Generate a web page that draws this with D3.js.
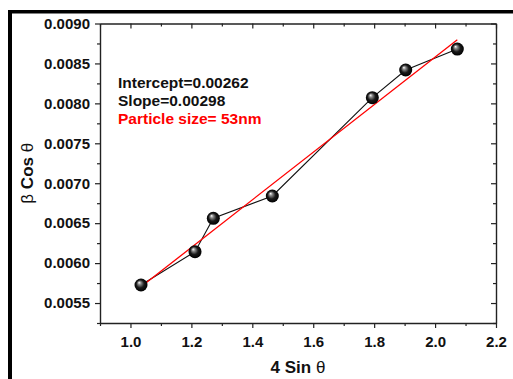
<!DOCTYPE html>
<html><head><meta charset="utf-8">
<script src="https://cdn.jsdelivr.net/npm/d3@7"></script>
<style>body{margin:0;background:#fff}svg{display:block}</style>
</head><body>
<script>
const xValues = [1.0346, 1.2119, 1.272, 1.4657, 1.794, 1.9036, 2.073];
const yValues = [0.005726, 0.006143, 0.006561, 0.00684, 0.008071, 0.008418, 0.00868];
const fitIntercept = 0.00262;
const fitSlope = 0.00298;
const xTickLabels = ["1.0","1.2","1.4","1.6","1.8","2.0","2.2"];
const yTickLabels = ["0.0055","0.0060","0.0065","0.0070","0.0075","0.0080","0.0085","0.0090"];
const annotations = ["Intercept=0.00262","Slope=0.00298","Particle size= 53nm"];

const W=513,H=379;
const svg=d3.select("body").append("svg").attr("width",W).attr("height",H);
svg.append("rect").attr("width",W).attr("height",H).attr("fill","#fff");
// outer frame
svg.append("rect").attr("x",8).attr("y",10).attr("width",4).attr("height",H-10).attr("fill","#000");
svg.append("rect").attr("x",8).attr("y",10).attr("width",W-8).attr("height",3.5).attr("fill","#000");

const L=100,R=496,T=23.5,B=323;
const x=d3.scaleLinear().domain([0.9,2.2]).range([L,R]);
const y=d3.scaleLinear().domain([0.00525,0.0090]).range([B,T]);
const font="'Liberation Sans', Arial, sans-serif";
const axisColor="#222";

const xMajor=xTickLabels.map(Number);
const xMinor=d3.range(9,23).map(d=>d/10).filter(d=>!xMajor.some(m=>Math.abs(m-d)<1e-9));
const yMajor=yTickLabels.map(Number);
const yMinor=d3.range(21,37).map(d=>d*0.00025).filter(d=>!yMajor.some(m=>Math.abs(m-d)<1e-9));

function styleAxis(g){
  g.selectAll(".domain").attr("stroke",axisColor).attr("stroke-width",1.4);
  g.selectAll(".tick line").attr("stroke",axisColor).attr("stroke-width",1.2);
}
// bottom
const gb=svg.append("g").attr("transform",`translate(0,${B})`);
gb.call(d3.axisBottom(x).tickValues(xMajor).tickSize(5).tickSizeOuter(0).tickFormat((d,i)=>xTickLabels[i]));
gb.append("g").call(d3.axisBottom(x).tickValues(xMinor).tickSize(3).tickSizeOuter(0).tickFormat("")).select(".domain").remove();
styleAxis(gb);
gb.selectAll("text").attr("font-family",font).attr("font-weight","bold").attr("font-size",15).attr("fill","#111").attr("dy","1.05em");
// top
const gt=svg.append("g").attr("transform",`translate(0,${T})`);
gt.call(d3.axisBottom(x).tickValues(xMajor).tickSize(5).tickSizeOuter(0).tickFormat(""));
gt.append("g").call(d3.axisBottom(x).tickValues(xMinor).tickSize(3).tickSizeOuter(0).tickFormat("")).select(".domain").remove();
styleAxis(gt);
// left
const gl=svg.append("g").attr("transform",`translate(${L},0)`);
gl.call(d3.axisLeft(y).tickValues(yMajor).tickSize(5).tickSizeOuter(0).tickFormat((d,i)=>yTickLabels[i]));
gl.append("g").call(d3.axisLeft(y).tickValues(yMinor).tickSize(3).tickSizeOuter(0).tickFormat("")).select(".domain").remove();
styleAxis(gl);
gl.selectAll("text").attr("font-family",font).attr("font-weight","bold").attr("font-size",15).attr("fill","#111").attr("x",-10);
// right
const gr=svg.append("g").attr("transform",`translate(${R},0)`);
gr.call(d3.axisLeft(y).tickValues(yMajor).tickSize(5).tickSizeOuter(0).tickFormat(""));
gr.append("g").call(d3.axisLeft(y).tickValues(yMinor).tickSize(3).tickSizeOuter(0).tickFormat("")).select(".domain").remove();
styleAxis(gr);

// axis titles
const xt=svg.append("text").attr("x",298).attr("y",373).attr("text-anchor","middle")
  .attr("font-family",font).attr("font-weight","bold").attr("font-size",17).attr("fill","#111");
xt.append("tspan").text("4 Sin ");
xt.append("tspan").attr("font-weight","normal").text("θ");
const yt=svg.append("text").attr("transform",`translate(33,${(T+B)/2}) rotate(-90)`).attr("text-anchor","middle")
  .attr("font-family",font).attr("font-weight","bold").attr("font-size",17).attr("fill","#111");
yt.append("tspan").attr("font-weight","normal").text("β ");
yt.append("tspan").text("Cos ");
yt.append("tspan").attr("font-weight","normal").text("θ");

// defs gradient
const defs=svg.append("defs");
const grad=defs.append("radialGradient").attr("id","ball").attr("cx","50%").attr("cy","50%").attr("r","50%").attr("fx","35%").attr("fy","30%");
grad.append("stop").attr("offset","0%").attr("stop-color","#ffffff");
grad.append("stop").attr("offset","25%").attr("stop-color","#888");
grad.append("stop").attr("offset","60%").attr("stop-color","#1a1a1a");
grad.append("stop").attr("offset","100%").attr("stop-color","#000");

const data=xValues.map((v,i)=>({x:v,y:yValues[i]}));
// connecting line
svg.append("path").datum(data).attr("fill","none").attr("stroke","#111").attr("stroke-width",1.1)
  .attr("d",d3.line().x(d=>x(d.x)).y(d=>y(d.y)));
// fit line
const fx=d3.extent(xValues);
svg.append("line").attr("x1",x(fx[0])).attr("y1",y(fitIntercept+fitSlope*fx[0]))
  .attr("x2",x(fx[1])).attr("y2",y(fitIntercept+fitSlope*fx[1]))
  .attr("stroke","#ff0000").attr("stroke-width",1.3);
// points
svg.selectAll("circle.pt").data(data).join("circle").attr("class","pt")
  .attr("cx",d=>x(d.x)).attr("cy",d=>y(d.y)).attr("r",6.5).attr("fill","url(#ball)");

// annotations
const ann=[{t:annotations[0],y:88,c:"#111"},{t:annotations[1],y:106,c:"#111"},{t:annotations[2],y:124,c:"#ff0000"}];
svg.selectAll("text.ann").data(ann).join("text").attr("class","ann")
  .attr("x",118).attr("y",d=>d.y).attr("fill",d=>d.c).attr("font-family",font).attr("font-weight","bold")
  .attr("font-size",15.5).text(d=>d.t);
</script>
</body></html>
